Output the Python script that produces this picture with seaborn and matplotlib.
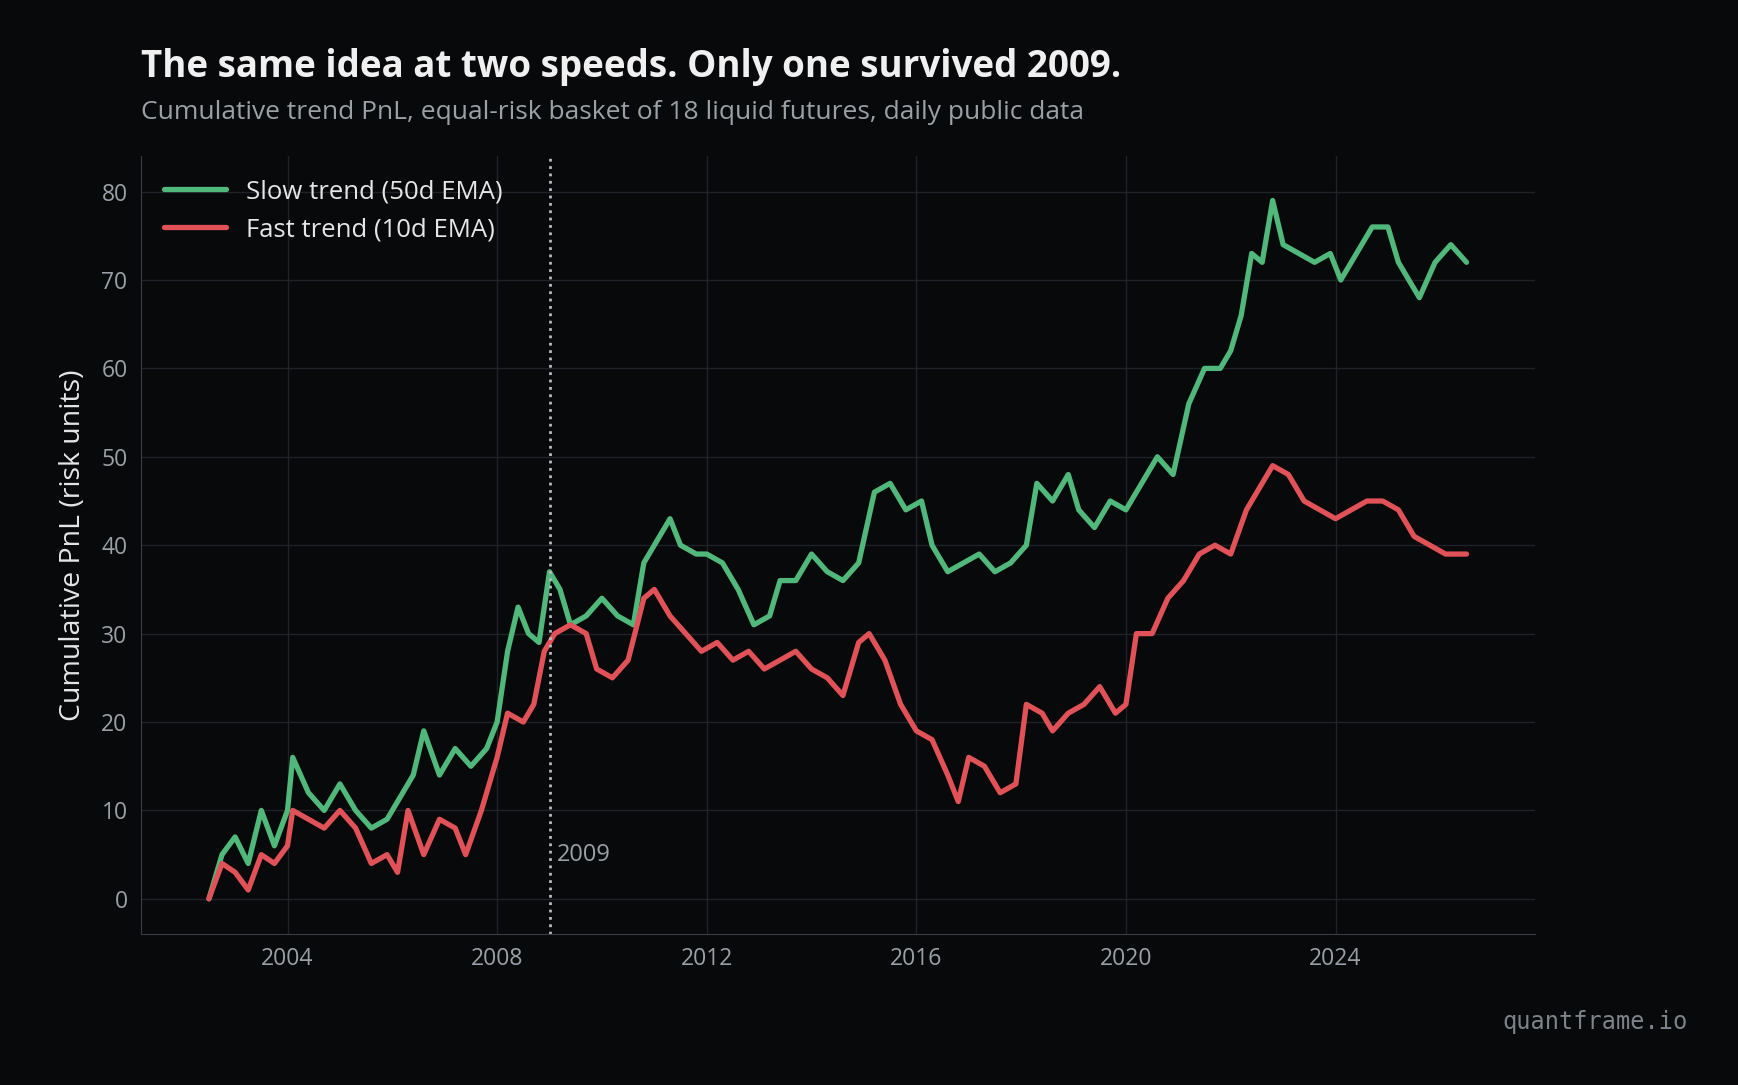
import pandas as pd
import seaborn as sns
import matplotlib.pyplot as plt

slow_t = [2002.5, 2002.75, 2003.0, 2003.25, 2003.5, 2003.75, 2004.0, 2004.1, 2004.4, 2004.7, 2005.0, 2005.3,
          2005.6, 2005.9, 2006.2, 2006.4, 2006.6, 2006.9, 2007.2, 2007.5, 2007.8, 2008.0, 2008.2, 2008.4,
          2008.6, 2008.8, 2009.0, 2009.2, 2009.4, 2009.7, 2010.0, 2010.3, 2010.6, 2010.8, 2011.0, 2011.3,
          2011.5, 2011.8, 2012.0, 2012.3, 2012.6, 2012.9, 2013.2, 2013.4, 2013.7, 2014.0, 2014.3, 2014.6,
          2014.9, 2015.2, 2015.5, 2015.8, 2016.1, 2016.3, 2016.6, 2016.9, 2017.2, 2017.5, 2017.8, 2018.1,
          2018.3, 2018.6, 2018.9, 2019.1, 2019.4, 2019.7, 2020.0, 2020.3, 2020.6, 2020.9, 2021.2, 2021.5,
          2021.8, 2022.0, 2022.2, 2022.4, 2022.6, 2022.8, 2023.0, 2023.3, 2023.6, 2023.9, 2024.1, 2024.4,
          2024.7, 2025.0, 2025.2, 2025.4, 2025.6, 2025.9, 2026.2, 2026.5]
slow_v = [0, 5, 7, 4, 10, 6, 10, 16, 12, 10, 13, 10,
          8, 9, 12, 14, 19, 14, 17, 15, 17, 20, 28, 33,
          30, 29, 37, 35, 31, 32, 34, 32, 31, 38, 40, 43,
          40, 39, 39, 38, 35, 31, 32, 36, 36, 39, 37, 36,
          38, 46, 47, 44, 45, 40, 37, 38, 39, 37, 38, 40,
          47, 45, 48, 44, 42, 45, 44, 47, 50, 48, 56, 60,
          60, 62, 66, 73, 72, 79, 74, 73, 72, 73, 70, 73,
          76, 76, 72, 70, 68, 72, 74, 72]

fast_t = [2002.5, 2002.75, 2003.0, 2003.25, 2003.5, 2003.75, 2004.0, 2004.1, 2004.4, 2004.7, 2005.0, 2005.3,
          2005.6, 2005.9, 2006.1, 2006.3, 2006.6, 2006.9, 2007.2, 2007.4, 2007.7, 2008.0, 2008.2, 2008.5,
          2008.7, 2008.9, 2009.1, 2009.4, 2009.7, 2009.9, 2010.2, 2010.5, 2010.8, 2011.0, 2011.3, 2011.6,
          2011.9, 2012.2, 2012.5, 2012.8, 2013.1, 2013.4, 2013.7, 2014.0, 2014.3, 2014.6, 2014.9, 2015.1,
          2015.4, 2015.7, 2016.0, 2016.3, 2016.6, 2016.8, 2017.0, 2017.3, 2017.6, 2017.9, 2018.1, 2018.4,
          2018.6, 2018.9, 2019.2, 2019.5, 2019.8, 2020.0, 2020.2, 2020.5, 2020.8, 2021.1, 2021.4, 2021.7,
          2022.0, 2022.3, 2022.5, 2022.8, 2023.1, 2023.4, 2023.7, 2024.0, 2024.3, 2024.6, 2024.9, 2025.2,
          2025.5, 2025.8, 2026.1, 2026.5]
fast_v = [0, 4, 3, 1, 5, 4, 6, 10, 9, 8, 10, 8,
          4, 5, 3, 10, 5, 9, 8, 5, 10, 16, 21, 20,
          22, 28, 30, 31, 30, 26, 25, 27, 34, 35, 32, 30,
          28, 29, 27, 28, 26, 27, 28, 26, 25, 23, 29, 30,
          27, 22, 19, 18, 14, 11, 16, 15, 12, 13, 22, 21,
          19, 21, 22, 24, 21, 22, 30, 30, 34, 36, 39, 40,
          39, 44, 46, 49, 48, 45, 44, 43, 44, 45, 45, 44,
          41, 40, 39, 39]

bg = "#08090b"
green = "#4fb87a"
red = "#e05258"
grid = "#1f2226"
tickc = "#9aa0a6"

sns.set_style("dark")
plt.rcParams["font.family"] = ["Open Sans", "DejaVu Sans"]

slow = pd.DataFrame({"t": slow_t, "v": slow_v, "s": "Slow trend (50d EMA)"})
fast = pd.DataFrame({"t": fast_t, "v": fast_v, "s": "Fast trend (10d EMA)"})
df = pd.concat([slow, fast])

fig = plt.figure(figsize=(17.38, 10.85), dpi=100, facecolor=bg)
ax = fig.add_axes([0.081, 0.139, 0.802, 0.717], facecolor=bg)
sns.lineplot(data=df, x="t", y="v", hue="s", palette=[green, red], linewidth=3.8, ax=ax)

ax.set_xlim(2001.2, 2027.8)
ax.set_ylim(-4, 84)
ax.set_xticks([2004, 2008, 2012, 2016, 2020, 2024])
ax.set_yticks(range(0, 90, 10))
ax.grid(True, color=grid, linewidth=1)
for s in ["top", "right"]:
    ax.spines[s].set_visible(False)
for s in ["left", "bottom"]:
    ax.spines[s].set_color("#3a3d42")
ax.tick_params(colors=tickc, labelsize=16.5, length=6, color="#3a3d42")
ax.set_xlabel("")
ax.set_ylabel("Cumulative PnL (risk units)", color="#e6e6e6", fontsize=20.5, labelpad=10)

ax.axvline(2009.0, color="#b8bcc2", linestyle=":", linewidth=2)
ax.text(2009.15, 5, "2009", color=tickc, fontsize=17, va="center")

leg = ax.legend(loc="upper left", frameon=False, fontsize=18.5, handlelength=2.4)
for t in leg.get_texts():
    t.set_color("#e6e6e6")
for l in leg.get_lines():
    l.set_linewidth(3.8)

fig.text(0.081, 0.938, "The same idea at two speeds. Only one survived 2009.",
         color="#f0f0f0", fontsize=26.5, fontweight="bold", va="center")
fig.text(0.081, 0.896, "Cumulative trend PnL, equal-risk basket of 18 liquid futures, daily public data",
         color=tickc, fontsize=19, va="center")
fig.text(0.971, 0.058, "quantframe.io", color="#7d8288", fontsize=17,
         family="DejaVu Sans Mono", ha="right", va="center")

fig.savefig("out.png", facecolor=bg)
